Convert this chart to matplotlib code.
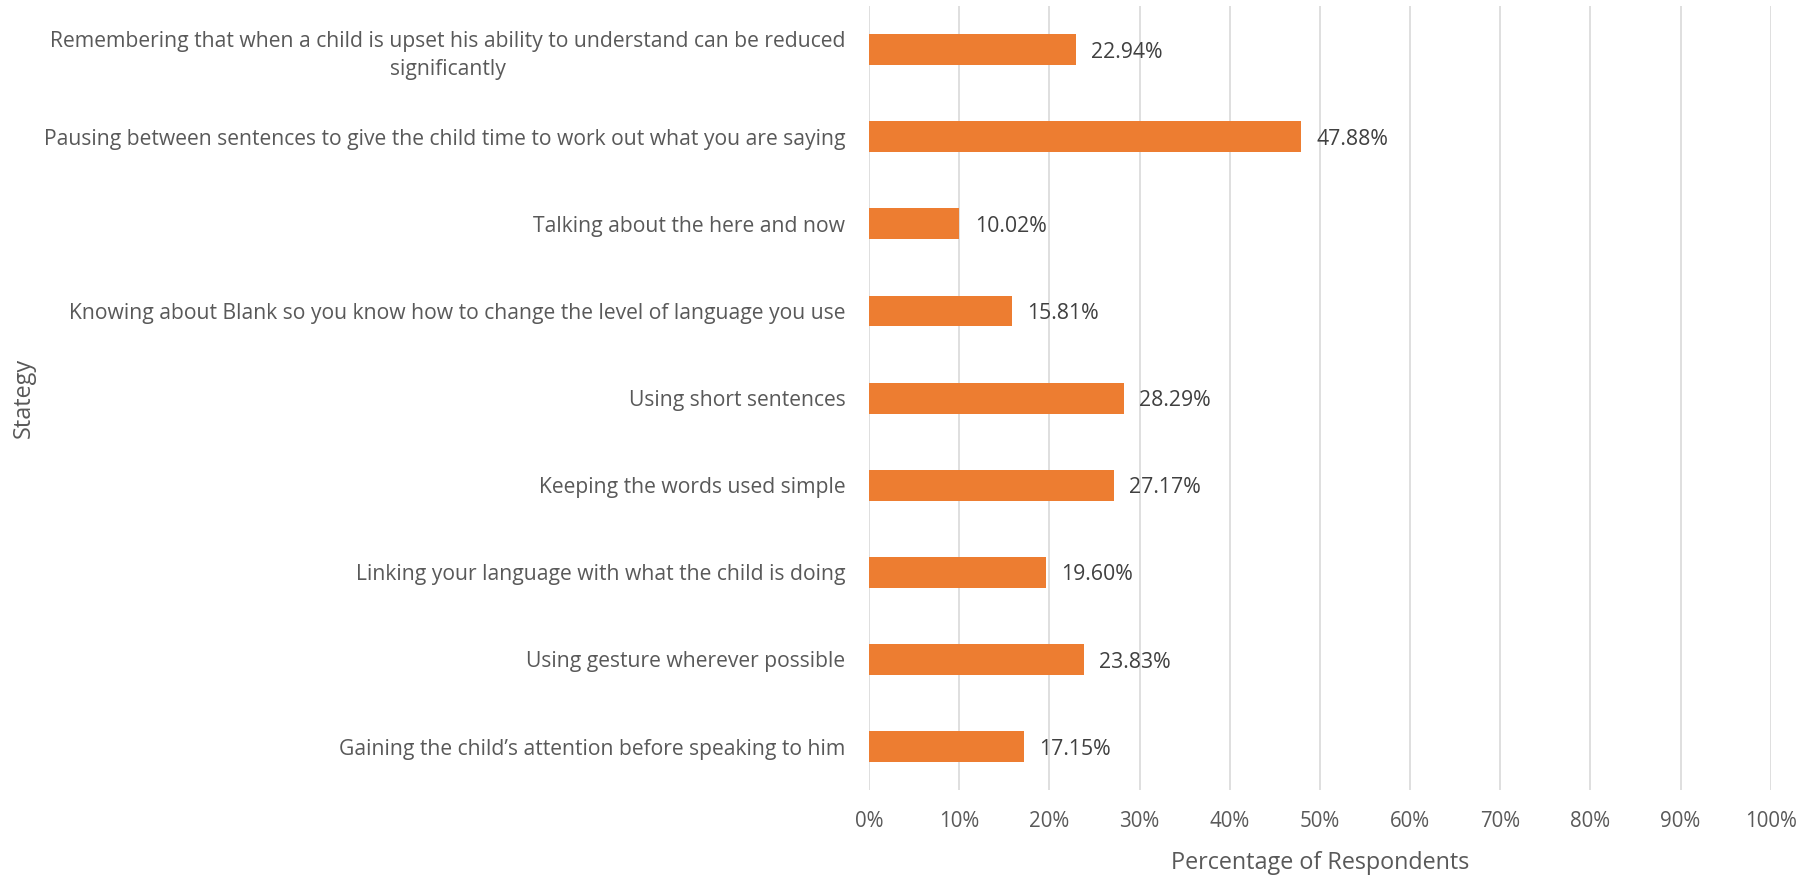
import matplotlib
matplotlib.use("Agg")
import matplotlib.pyplot as plt
from matplotlib.ticker import FuncFormatter

strategies = [
    "Remembering that when a child is upset his ability to understand can be reduced\nsignificantly",
    "Pausing between sentences to give the child time to work out what you are saying",
    "Talking about the here and now",
    "Knowing about Blank so you know how to change the level of language you use",
    "Using short sentences",
    "Keeping the words used simple",
    "Linking your language with what the child is doing",
    "Using gesture wherever possible",
    "Gaining the child\u2019s attention before speaking to him",
]
percentages = [22.94, 47.88, 10.02, 15.81, 28.29, 27.17, 19.60, 23.83, 17.15]
x_ticks = [0, 10, 20, 30, 40, 50, 60, 70, 80, 90, 100]

TEXT = "#595959"
BAR = "#ED7D31"
GRID = "#D9D9D9"

plt.rcParams["font.family"] = ["Open Sans", "DejaVu Sans"]

fig = plt.figure(figsize=(18.18, 8.76), dpi=100)
ax = fig.add_axes([0.478, 0.098, 0.496, 0.895])

n = len(strategies)
ypos = list(range(n))[::-1]
ax.barh(ypos, percentages, height=0.355, color=BAR, zorder=3)

for y, v in zip(ypos, percentages):
    ax.text(v + 1.7, y - 0.03, f"{v:.2f}%", va="center", ha="left",
            fontsize=15.3, color="#404040")

ax.set_xlim(0, 100)
ax.set_ylim(-0.5, n - 0.5)
ax.set_xticks(x_ticks)
ax.xaxis.set_major_formatter(FuncFormatter(lambda v, p: f"{v:.0f}%"))
ax.set_yticks(ypos)
ax.set_yticklabels(strategies, multialignment="center", linespacing=1.45,
                   fontsize=15.2)

ax.grid(axis="x", color=GRID, linewidth=1.2, zorder=0)
for s in ax.spines.values():
    s.set_visible(False)
ax.tick_params(axis="both", length=0, colors=TEXT)
ax.tick_params(axis="x", labelsize=14.8, pad=15)
ax.tick_params(axis="y", pad=17)

ax.set_xlabel("Percentage of Respondents", fontsize=16.8, color=TEXT, labelpad=14)
fig.text(0.013, 0.5 * (0.098 + 0.993), "Stategy", rotation=90, va="center",
         ha="center", fontsize=16.8, color=TEXT)

fig.savefig("out.png", dpi=100)
